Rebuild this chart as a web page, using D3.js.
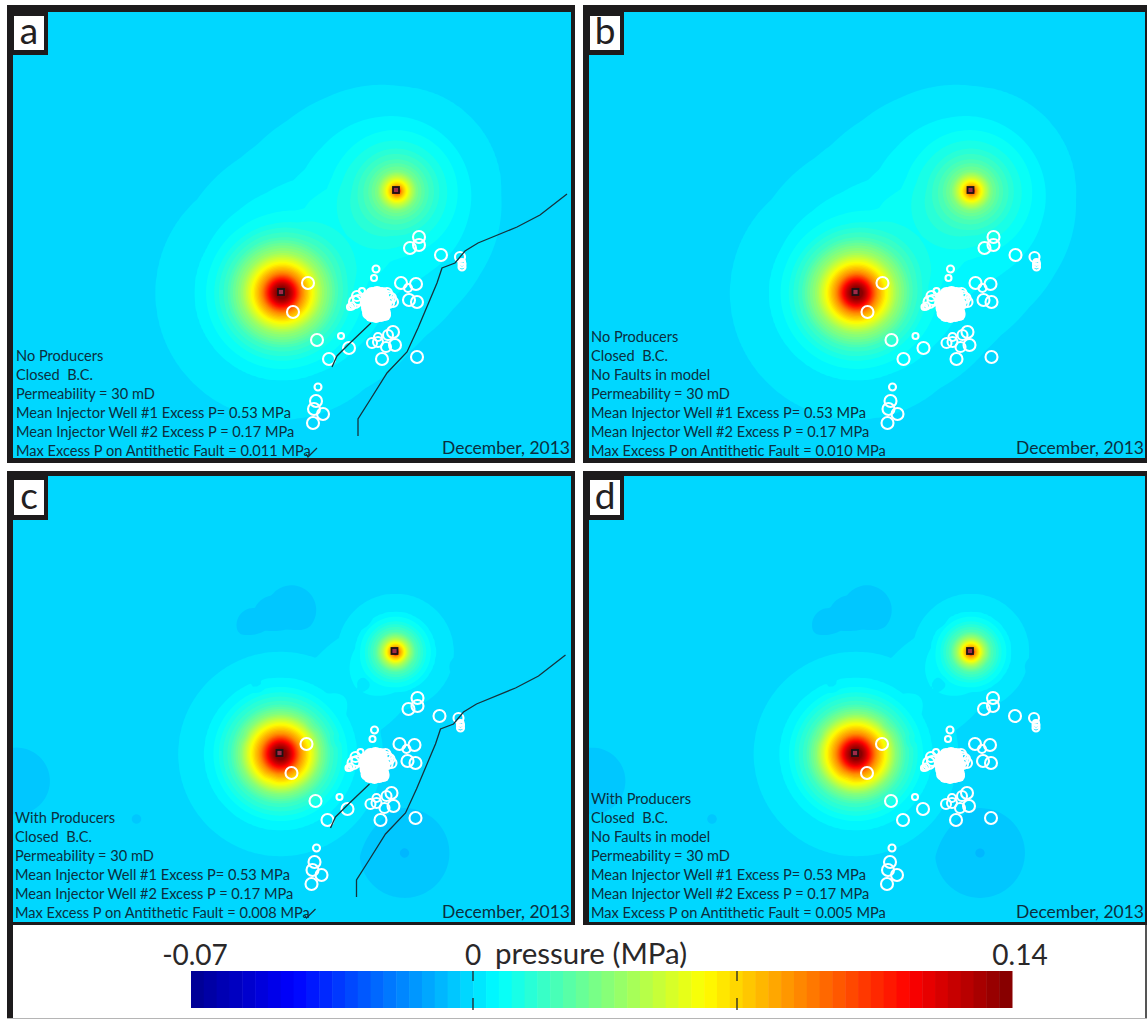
<!DOCTYPE html>
<html>
<head>
<meta charset="utf-8">
<script src="https://d3js.org/d3.v7.min.js"></script>
<style>
body { margin: 0; background: #fff; }
svg { display: block; }
text { font-family: Lato, "Open Sans", sans-serif; white-space: pre; }
</style>
</head>
<body>
<svg id="graph1" width="1147" height="1019"></svg>
<script>

// Panels and the text written in them
var panelNames = ["a", "b", "c", "d"];
var firstLines = [
  ["No Producers", "Closed  B.C."],
  ["No Producers", "Closed  B.C.", "No Faults in model"],
  ["With Producers", "Closed  B.C."],
  ["With Producers", "Closed  B.C.", "No Faults in model"]
];
var maxFaultP = ["0.011", "0.010", "0.008", "0.005"];
var hasFaults = [true, false, true, false];
var hasProducers = [false, false, true, true];
var dateLabel = "December, 2013";

// Injector wells in map units
var wells = [[281, 292], [396, 190]];

// Radial pressure profiles: distance from well, pressure in MPa
var profileDist1 = [0, 5, 10, 15, 20, 30, 40, 55, 70, 87, 126, 150, 200, 240];
var profileP1 = [0.2, 0.14, 0.125, 0.105, 0.085, 0.06, 0.04, 0.021, 0.0105, 0.0055, 0.0022, 0.0014, 0.0005, 0];
var profileDist2 = [0, 3, 7, 13, 20, 30, 45, 60, 70, 88, 104, 130, 160, 200];
var profileP2 = [0.2, 0.09, 0.07, 0.05, 0.032, 0.022, 0.013, 0.0085, 0.0055, 0.004, 0.0022, 0.0012, 0.0005, 0];
var profileDist1b = [0, 5, 10, 15, 20, 30, 40, 50, 65, 76, 102, 130];
var profileP1b = [0.2, 0.14, 0.125, 0.105, 0.085, 0.06, 0.036, 0.021, 0.0095, 0.0055, 0.0022, 0];
var profileDist2b = [0, 3, 7, 13, 20, 30, 40, 58, 80];
var profileP2b = [0.2, 0.09, 0.07, 0.045, 0.025, 0.0125, 0.0055, 0.0022, 0];

// Producer drawdown spots: x, y, depth in MPa, reach
var producers = [
  [292, 148, 0.0036, 32], [254, 163, 0.0036, 22], [275, 155, 0.0036, 28],
  [365, 159, 0.003, 8], [365, 221, 0.003, 8], [457, 204, 0.003, 8],
  [405, 391, 0.006, 52], [17, 319, 0.004, 42], [137, 357, 0.0022, 14],
  [258, 225, 0.003, 7], [245, 275, 0.003, 6], [312, 265, 0.003, 7],
  [335, 279, 0.003, 7], [407, 199, 0.003, 7], [272, 316, 0.003, 7]
];

// Earthquakes: x, y, circle size
var quakes = [
  [419, 237, 6], [419, 245, 6], [410, 248, 6], [441, 255, 6], [460, 257, 5],
  [462, 262, 3], [462, 264, 3.5], [462, 267, 3.5], [376, 269, 3.5], [374, 278, 3],
  [401, 283, 6], [416, 284, 6], [408, 288, 4], [409, 300, 6], [417, 302, 6],
  [308, 283, 6], [293, 312, 6],
  [362, 291, 3], [357, 296, 5], [355, 302, 6], [352, 306, 3.5], [358, 300, 5], [350, 307, 3],
  [387, 293, 5], [391, 298, 5], [393, 302, 5], [389, 303, 5], [388, 297, 6],
  [393, 332, 6], [388, 335, 5], [378, 337, 4], [372, 343, 5], [378, 342, 5],
  [386, 347, 5], [395, 345, 6], [382, 359, 6], [417, 357, 6],
  [317, 340, 6], [341, 336, 3], [349, 348, 6], [329, 359, 6],
  [318, 387, 3.5], [316, 401, 6], [314, 409, 6], [323, 414, 6], [313, 423, 6]
];

// The swarm is so packed that its circles merge into one white patch
var swarm = [
  [372, 294, 6], [377, 293, 6], [382, 294, 6], [368, 298, 6], [373, 299, 6],
  [378, 298, 6], [383, 299, 6], [367, 303, 6], [372, 304, 6], [377, 303, 6],
  [382, 304, 6], [386, 304, 5], [368, 308, 6], [373, 309, 6], [378, 308, 6],
  [383, 309, 6], [369, 313, 6], [374, 314, 6], [379, 313, 6], [384, 313, 6],
  [371, 316, 5], [376, 317, 5], [381, 316, 5], [385, 315, 5]
];

// Fault traces in map units
var mainFault = [
  [567, 194], [540, 215], [517, 227], [478, 243], [465, 251], [455, 263], [442, 268],
  [437, 283], [418, 328], [407, 352], [387, 373], [370, 400], [358, 419], [358, 436]
];
var antitheticFault = [[371, 323], [350, 343], [337, 356], [332, 367]];
var faultTick = [[306, 454], [308, 457], [317, 448]];

// Colour bar labels
var barTicks = [-0.07, 0, 0.07, 0.14];
var barLabels = [["-0.07", -0.07], ["0", 0], ["0.14", 0.14]];
var jetStops = [0, 0.125, 0.375, 0.625, 0.875, 1];
var jetColors = ["#000090", "#0000ff", "#00ffff", "#ffff00", "#ff0000", "#800000"];

var svg = d3.select("#graph1");
var nColors = 64;
var pMin = -0.07, pMax = 0.14;

var jet = d3.scaleLinear().domain(jetStops).range(jetColors).interpolate(d3.interpolateRgb);
var pToT = d3.scaleLinear().domain([pMin, pMax]).range([0, 1]);

function bandColor(k) { return jet((k + 0.5) / nColors); }

var profile1 = d3.scaleLinear().domain(profileDist1).range(profileP1).clamp(true);
var profile2 = d3.scaleLinear().domain(profileDist2).range(profileP2).clamp(true);
var profile1b = d3.scaleLinear().domain(profileDist1b).range(profileP1b).clamp(true);
var profile2b = d3.scaleLinear().domain(profileDist2b).range(profileP2b).clamp(true);
var fall = d3.scaleLinear().domain([0, 0.15, 0.7, 1]).range([1, 0.55, 0.4, 0]).clamp(true);

// Frame geometry: outer black box and inner plot area
var frames = [
  {x: 7, y: 5, w: 568, h: 458, ix: 13, iy: 12, iw: 558, ih: 446, dx: 0, dy: 0, tx: 16, ty: 456, labelW: 30, labelH: 34},
  {x: 583, y: 5, w: 564, h: 458, ix: 589, iy: 12, iw: 556, ih: 446, dx: 574.5, dy: 0, tx: 591, ty: 456, labelW: 30, labelH: 34},
  {x: 7, y: 471, w: 568, h: 454, ix: 13, iy: 476, iw: 558, ih: 446, dx: -1.5, dy: 461, tx: 15, ty: 918, labelW: 30, labelH: 35},
  {x: 583, y: 471, w: 564, h: 454, ix: 589, iy: 476, iw: 556, ih: 446, dx: 574, dy: 461, tx: 591, ty: 918, labelW: 30, labelH: 35}
];

// Pressure at a map position for one panel
function pressureAt(mx, my, withProducers) {
  var d1 = Math.hypot(mx - wells[0][0], my - wells[0][1]);
  var d2 = Math.hypot(mx - wells[1][0], my - wells[1][1]);
  var p = withProducers ? profile1b(d1) + profile2b(d2) : profile1(d1) + profile2(d2);
  if (withProducers) {
    // the deepest spot wins, overlapping spots do not add up
    var drop = 0;
    producers.forEach(function(s) {
      var dx = mx - s[0], dy = my - s[1];
      if (dx * dx + dy * dy < s[3] * s[3]) {
        drop = Math.max(drop, s[2] * fall(Math.sqrt(dx * dx + dy * dy) / s[3]));
      }
    });
    p -= drop;
  }
  return p;
}

var cell = 2;
var thresholds = d3.range(1, nColors).map(function(k) { return pMin + k * (pMax - pMin) / nColors; });

panelNames.forEach(function(name, n) {
  var f = frames[n];
  var g = svg.append("g");

  // the outer frame is black, the plot area sits on top of it
  g.append("rect").attr("x", f.x).attr("y", f.y).attr("width", f.w).attr("height", f.h).attr("fill", "#1d1b1c");

  var clipId = "clip" + name;
  svg.append("clipPath").attr("id", clipId).append("rect")
    .attr("x", f.ix).attr("y", f.iy).attr("width", f.iw).attr("height", f.ih);
  var plot = g.append("g").attr("clip-path", "url(#" + clipId + ")");

  var xMap = d3.scaleLinear().domain([0, 1147]).range([f.dx, 1147 + f.dx]);
  var yMap = d3.scaleLinear().domain([0, 1019]).range([f.dy, 1019 + f.dy]);

  // sample the field on a grid and contour it into the 64 colour bands
  var nx = Math.ceil(f.iw / cell) + 1, ny = Math.ceil(f.ih / cell) + 1;
  var values = new Float64Array(nx * ny);
  for (var j = 0; j < ny; j++) {
    for (var i = 0; i < nx; i++) {
      values[i + j * nx] = pressureAt(xMap.invert(f.ix + (i - 0.5) * cell), yMap.invert(f.iy + (j - 0.5) * cell), hasProducers[n]);
    }
  }
  var lo = d3.min(values), hi = d3.max(values);
  var baseBand = Math.floor(pToT(lo) * nColors);
  plot.append("rect").attr("x", f.ix).attr("y", f.iy).attr("width", f.iw).attr("height", f.ih)
    .attr("fill", bandColor(baseBand));

  var useThresholds = thresholds.filter(function(t) { return t > lo && t < hi; });
  var contours = d3.contours().size([nx, ny]).smooth(true).thresholds(useThresholds)(values);
  var path = d3.geoPath(d3.geoIdentity().scale(cell).translate([f.ix - cell / 2, f.iy - cell / 2]));
  plot.selectAll("path.band").data(contours).enter().append("path")
    .attr("class", "band")
    .attr("d", path)
    .attr("fill", function(c) { return bandColor(Math.round(pToT(c.value) * nColors)); });

  // earthquakes, the packed swarm is solid white
  plot.selectAll("circle.swarm").data(swarm).enter().append("circle")
    .attr("class", "swarm")
    .attr("cx", function(d) { return xMap(d[0]); })
    .attr("cy", function(d) { return yMap(d[1]); })
    .attr("r", function(d) { return d[2] + 1; })
    .attr("fill", "#fff");

  plot.selectAll("circle.quake").data(quakes).enter().append("circle")
    .attr("class", "quake")
    .attr("cx", function(d) { return xMap(d[0]); })
    .attr("cy", function(d) { return yMap(d[1]); })
    .attr("r", function(d) { return d[2]; })
    .attr("fill", "none")
    .attr("stroke", "#fff")
    .attr("stroke-width", 2.1);

  // faults only in the panels modelled with them
  if (hasFaults[n]) {
    var line = d3.line().x(function(d) { return xMap(d[0]); }).y(function(d) { return yMap(d[1]); });
    [mainFault, antitheticFault, faultTick].forEach(function(tr) {
      plot.append("path").attr("d", line(tr)).attr("fill", "none")
        .attr("stroke", "#16323c").attr("stroke-width", 1.3);
    });
  }

  // injector well markers
  plot.selectAll("rect.well").data(wells).enter().append("rect")
    .attr("class", "well")
    .attr("x", function(d) { return xMap(d[0]) - 3; })
    .attr("y", function(d) { return yMap(d[1]) - 3; })
    .attr("width", 6).attr("height", 6)
    .attr("fill", "#a02a48")
    .attr("stroke", "#1d1214")
    .attr("stroke-width", 1.8);

  // annotation lines, last one on the bottom
  var lines = firstLines[n].concat([
    "Permeability = 30 mD",
    "Mean Injector Well #1 Excess P= 0.53 MPa",
    "Mean Injector Well #2 Excess P = 0.17 MPa",
    "Max Excess P on Antithetic Fault = " + maxFaultP[n] + " MPa"
  ]);
  g.selectAll("text.note").data(lines).enter().append("text")
    .attr("class", "note")
    .attr("x", f.tx)
    .attr("y", function(d, i) { return f.ty - (lines.length - 1 - i) * 19; })
    .attr("font-size", 14.6)
    .attr("fill", "#0b2f40")
    .text(function(d) { return d; });

  g.append("text")
    .attr("x", f.ix + f.iw - 1)
    .attr("y", f.iy + f.ih - 4)
    .attr("text-anchor", "end")
    .attr("font-size", 17.5)
    .attr("fill", "#0b2f40")
    .text(dateLabel);

  // panel letter in its black and white box
  g.append("rect").attr("x", f.ix).attr("y", f.iy).attr("width", f.labelW + 5).attr("height", f.labelH + 9).attr("fill", "#1d1b1c");
  g.append("rect").attr("x", f.ix + 1).attr("y", f.iy + 4).attr("width", f.labelW).attr("height", f.labelH).attr("fill", "#fff");
  g.append("text")
    .attr("x", f.ix + 1 + f.labelW / 2)
    .attr("y", f.iy + 4 + f.labelH - 6)
    .attr("text-anchor", "middle")
    .attr("font-size", 37)
    .attr("fill", "#232021")
    .text(name);
});

// Bottom box around the colour bar
svg.append("rect").attr("x", 7).attr("y", 925).attr("width", 6).attr("height", 94).attr("fill", "#1d1b1c");
svg.append("rect").attr("x", 1145).attr("y", 925).attr("width", 2).attr("height", 94).attr("fill", "#555");
svg.append("rect").attr("x", 7).attr("y", 1018).attr("width", 1140).attr("height", 1).attr("fill", "#b5b5b5");

// Colour bar: the ticks are not quite evenly spaced in the picture
var barX = d3.scaleLinear().domain(barTicks).range([191, 473, 737, 1012]);
var barT = d3.scaleLinear().domain([0, 1]).range([191, 1012]);
var barTop = 971, barBottom = 1008;
svg.selectAll("rect.bar").data(d3.range(nColors)).enter().append("rect")
  .attr("class", "bar")
  .attr("x", function(k) { return barT(k / nColors); })
  .attr("y", barTop)
  .attr("width", barT(1 / nColors) - barT(0) + 0.5)
  .attr("height", barBottom - barTop)
  .attr("fill", bandColor);

[0, 0.07].forEach(function(v) {
  [[barTop, barTop + 10], [barBottom - 10, barBottom + 2]].forEach(function(s) {
    svg.append("line")
      .attr("x1", barX(v)).attr("x2", barX(v))
      .attr("y1", s[0]).attr("y2", s[1])
      .attr("stroke", "#222").attr("stroke-width", 1.3);
  });
});

svg.selectAll("text.barlabel").data(barLabels).enter().append("text")
  .attr("class", "barlabel")
  .attr("x", function(d) { return d[1] === 0 ? barX(0) : (d[1] < 0 ? 195 : 1020); })
  .attr("y", 965)
  .attr("text-anchor", "middle")
  .attr("font-size", 28)
  .attr("fill", "#2a2829")
  .text(function(d) { return d[0]; });

svg.append("text")
  .attr("x", 495).attr("y", 964)
  .attr("font-size", 29.5)
  .attr("fill", "#2a2829")
  .text("pressure (MPa)");

</script>
</body>
</html>
